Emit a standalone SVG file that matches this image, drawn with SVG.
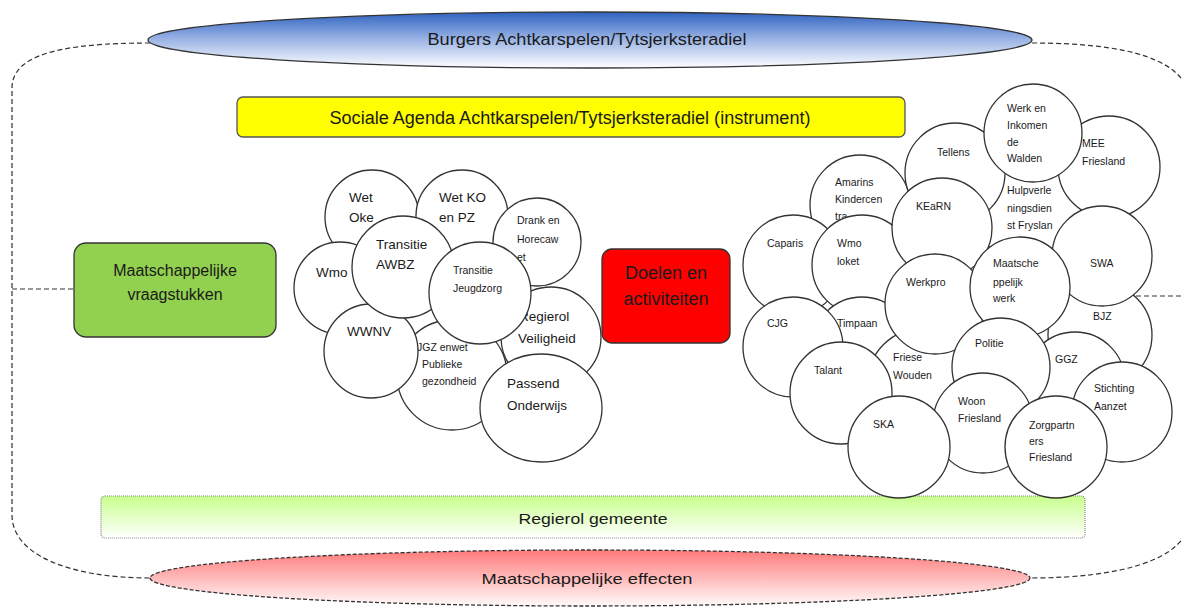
<svg xmlns="http://www.w3.org/2000/svg" width="1182" height="616" viewBox="0 0 1182 616">
<defs>
<linearGradient id="gBlue" x1="0" y1="0" x2="0" y2="1">
<stop offset="0" stop-color="#2f62c0"/>
<stop offset="0.5" stop-color="#9db6e6"/>
<stop offset="1" stop-color="#ffffff"/>
</linearGradient>
<linearGradient id="gRed" x1="0" y1="0" x2="0" y2="1">
<stop offset="0" stop-color="#ff7a7a"/>
<stop offset="1" stop-color="#fffafa"/>
</linearGradient>
<linearGradient id="gGreen" x1="0" y1="0" x2="0" y2="1">
<stop offset="0" stop-color="#c8ff8c"/>
<stop offset="1" stop-color="#ffffff"/>
</linearGradient>
</defs>
<style>
.c{fill:#ffffff;stroke:#333333;stroke-width:1.3}
.t{font-family:"Liberation Sans",Arial,sans-serif;fill:#1a1a1a}
.big{font-size:13.5px}
.sm{font-size:10.5px}
.dash{fill:none;stroke:#333333;stroke-width:1.2;stroke-dasharray:5,3}
</style>
<g id="connectors">
<path class="dash" d="M150,43 C60,43 12,55 12,88 L12,515 C12,555 70,578 150,578"/>
<path class="dash" d="M1032,43 C1130,43 1186,60 1190,100 L1190,520 C1186,560 1120,578 1030,578"/>
<line class="dash" x1="12" y1="289" x2="74" y2="289"/>
<line class="dash" x1="1128" y1="296" x2="1182" y2="296"/>
</g>
<g id="burgers">
<ellipse cx="590" cy="40" rx="442" ry="28" fill="url(#gBlue)" stroke="#333333" stroke-width="1.3"/>
<text class="t" x="587" y="45" font-size="16" text-anchor="middle" textLength="319" lengthAdjust="spacingAndGlyphs">Burgers Achtkarspelen/Tytsjerksteradiel</text>
</g>
<g id="effecten">
<ellipse cx="590" cy="578" rx="440" ry="28" fill="url(#gRed)" stroke="#333333" stroke-width="1.3" stroke-dasharray="4,2"/>
<text class="t" x="587" y="584" font-size="15" text-anchor="middle" textLength="211" lengthAdjust="spacingAndGlyphs">Maatschappelijke effecten</text>
</g>
<g id="sociale-agenda">
<rect x="237" y="97" width="668" height="40" rx="6" fill="#ffff00" stroke="#555555" stroke-width="1.3"/>
<text class="t" x="570" y="124" font-size="18" text-anchor="middle" textLength="481" lengthAdjust="spacingAndGlyphs">Sociale Agenda Achtkarspelen/Tytsjerksteradiel (instrument)</text>
</g>
<g id="regierol-gemeente">
<rect x="101" y="496" width="984" height="42" rx="4" fill="url(#gGreen)" stroke="#888888" stroke-width="1.2" stroke-dasharray="1,1"/>
<text class="t" x="593" y="524" font-size="15" text-anchor="middle" textLength="149" lengthAdjust="spacingAndGlyphs">Regierol gemeente</text>
</g>
<g id="vraagstukken">
<rect x="74" y="243" width="202" height="94" rx="12" fill="#92d050" stroke="#333333" stroke-width="1.3"/>
<text class="t" x="175" y="276" font-size="16" text-anchor="middle">Maatschappelijke</text>
<text class="t" x="175" y="300" font-size="16" text-anchor="middle">vraagstukken</text>
</g>
<g id="doelen">
<rect x="602" y="249" width="128" height="94" rx="10" fill="#ff0000" stroke="#333333" stroke-width="1.3"/>
<text class="t" x="666" y="279" font-size="18" text-anchor="middle">Doelen en</text>
<text class="t" x="666" y="305" font-size="18" text-anchor="middle">activiteiten</text>
</g>
<!-- left cluster -->
<g id="wet-oke"><circle class="c" cx="372" cy="217" r="47"/><text class="t big" x="349" y="202">Wet</text><text class="t big" x="349" y="222">Oke</text></g>
<g id="wet-ko"><circle class="c" cx="462" cy="216" r="46"/><text class="t big" x="439" y="202">Wet KO</text><text class="t big" x="439" y="222">en PZ</text></g>
<g id="drank"><circle class="c" cx="537" cy="242" r="44"/><text class="t sm" x="517" y="224">Drank en</text><text class="t sm" x="517" y="243">Horecaw</text><text class="t sm" x="517" y="261">et</text></g>
<g id="wmo"><circle class="c" cx="340" cy="288" r="46"/><text class="t big" x="316" y="277">Wmo</text></g>
<g id="jgz"><circle class="c" cx="452" cy="375" r="55"/><text class="t sm" x="417" y="351">JGZ enwet</text><text class="t sm" x="422" y="368">Publieke</text><text class="t sm" x="422" y="385">gezondheid</text></g>
<g id="regierol-veiligheid"><circle class="c" cx="551" cy="337" r="50"/><text class="t big" x="519" y="321">Regierol</text><text class="t big" x="518" y="343">Veiligheid</text></g>
<g id="passend"><ellipse class="c" cx="541" cy="408" rx="61" ry="54"/><text class="t big" x="507" y="388">Passend</text><text class="t big" x="507" y="410">Onderwijs</text></g>
<g id="wwnv"><circle class="c" cx="371" cy="351" r="47"/><text class="t big" x="347" y="336">WWNV</text></g>
<g id="awbz"><circle class="c" cx="403" cy="267" r="51"/><text class="t big" x="376" y="249">Transitie</text><text class="t big" x="376" y="269">AWBZ</text></g>
<g id="jeugdzorg"><circle class="c" cx="480" cy="293" r="51"/><text class="t sm" x="453" y="274">Transitie</text><text class="t sm" x="453" y="292">Jeugdzorg</text></g>
<!-- right cluster -->
<g id="hulpverlening"><circle class="c" cx="1030" cy="210" r="55"/><text class="t sm" x="1007" y="194">Hulpverle</text><text class="t sm" x="1007" y="212">ningsdien</text><text class="t sm" x="1007" y="229">st Fryslan</text></g>
<g id="bjz"><circle class="c" cx="1100" cy="335" r="52"/><text class="t sm" x="1093" y="320">BJZ</text></g>
<g id="ggz"><circle class="c" cx="1075" cy="382" r="50"/><text class="t sm" x="1055" y="363">GGZ</text></g>
<g id="amarins"><circle class="c" cx="860" cy="205" r="50"/><text class="t sm" x="835" y="186">Amarins</text><text class="t sm" x="835" y="203">Kindercen</text><text class="t sm" x="835" y="220">tra</text></g>
<g id="tellens"><circle class="c" cx="955" cy="173" r="50"/><text class="t sm" x="937" y="156">Tellens</text></g>
<g id="mee"><circle class="c" cx="1109" cy="167" r="51"/><text class="t sm" x="1082" y="147">MEE</text><text class="t sm" x="1082" y="165">Friesland</text></g>
<g id="swa"><circle class="c" cx="1102" cy="256" r="50"/><text class="t sm" x="1090" y="267">SWA</text></g>
<g id="werk-inkomen"><circle class="c" cx="1033" cy="133" r="49"/><text class="t sm" x="1007" y="112">Werk en</text><text class="t sm" x="1007" y="129">Inkomen</text><text class="t sm" x="1007" y="146">de</text><text class="t sm" x="1007" y="162">Walden</text></g>
<g id="caparis"><circle class="c" cx="793" cy="265" r="50"/><text class="t sm" x="767" y="247">Caparis</text></g>
<g id="wmo-loket"><circle class="c" cx="862" cy="265" r="50"/><text class="t sm" x="837" y="247">Wmo</text><text class="t sm" x="837" y="265">loket</text></g>
<g id="kearn"><circle class="c" cx="942" cy="228" r="50"/><text class="t sm" x="916" y="210">KEaRN</text></g>
<g id="timpaan"><circle class="c" cx="862" cy="347" r="50"/><text class="t sm" x="837" y="327">Timpaan</text></g>
<g id="cjg"><circle class="c" cx="793" cy="347" r="50"/><text class="t sm" x="767" y="327">CJG</text></g>
<g id="friese-wouden"><circle class="c" cx="921" cy="382" r="53"/><text class="t sm" x="893" y="361">Friese</text><text class="t sm" x="893" y="379">Wouden</text></g>
<g id="talant"><circle class="c" cx="841" cy="393" r="51"/><text class="t sm" x="814" y="374">Talant</text></g>
<g id="werkpro"><circle class="c" cx="935" cy="304" r="50"/><text class="t sm" x="906" y="286">Werkpro</text></g>
<g id="maatschappelijk-werk"><circle class="c" cx="1020" cy="287" r="50"/><text class="t sm" x="993" y="267">Maatsche</text><text class="t sm" x="993" y="286">ppelijk</text><text class="t sm" x="993" y="302">werk</text></g>
<g id="politie"><circle class="c" cx="1001" cy="367" r="49"/><text class="t sm" x="975" y="347">Politie</text></g>
<g id="woon"><circle class="c" cx="983" cy="423" r="50"/><text class="t sm" x="958" y="405">Woon</text><text class="t sm" x="958" y="422">Friesland</text></g>
<g id="ska"><circle class="c" cx="899" cy="447" r="51"/><text class="t sm" x="873" y="428">SKA</text></g>
<g id="stichting-aanzet"><circle class="c" cx="1122" cy="412" r="50"/><text class="t sm" x="1094" y="392">Stichting</text><text class="t sm" x="1094" y="410">Aanzet</text></g>
<g id="zorgpartners"><circle class="c" cx="1056" cy="447" r="51"/><text class="t sm" x="1029" y="429">Zorgpartn</text><text class="t sm" x="1029" y="445">ers</text><text class="t sm" x="1029" y="461">Friesland</text></g>
</svg>
